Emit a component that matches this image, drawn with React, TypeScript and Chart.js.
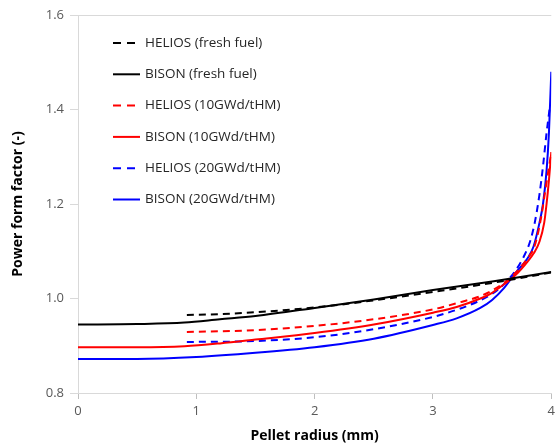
import React, { useEffect, useRef } from "react";
import { Chart, registerables } from "chart.js";

Chart.register(...registerables);

const yTicks = [0.8, 1.0, 1.2, 1.4, 1.6];
const xTicks = [0, 1, 2, 3, 4];

const bisonFreshR = [0, 0.5, 0.9, 1.2, 1.5, 2.0, 2.5, 3.0, 3.5, 4.0];
const bisonFreshV = [0.945, 0.946, 0.949, 0.956, 0.963, 0.98, 0.998, 1.018, 1.036, 1.056];

const heliosFreshR = [0.92, 1.2, 1.5, 2.0, 2.5, 3.0, 3.5, 4.0];
const heliosFreshV = [0.965, 0.967, 0.971, 0.981, 0.996, 1.014, 1.033, 1.055];

const bison10R = [0, 0.5, 0.9, 1.2, 1.5, 2.0, 2.5, 3.0, 3.2, 3.4, 3.5, 3.6, 3.7, 3.8, 3.85, 3.9, 3.94, 3.96, 3.98, 4.0];
const bison10V = [0.897, 0.897, 0.899, 0.905, 0.913, 0.927, 0.945, 0.97, 0.982, 1.0, 1.012, 1.03, 1.05, 1.078, 1.095, 1.12, 1.16, 1.2, 1.25, 1.31];

const helios10R = [0.92, 1.5, 2.0, 2.5, 3.0, 3.2, 3.4, 3.5, 3.6, 3.7, 3.8, 3.85, 3.88, 3.92, 3.95, 3.975, 3.995];
const helios10V = [0.929, 0.933, 0.942, 0.956, 0.977, 0.99, 1.005, 1.017, 1.033, 1.055, 1.085, 1.105, 1.13, 1.18, 1.23, 1.27, 1.3];

const bison20R = [0, 0.5, 1.0, 1.5, 2.0, 2.5, 3.0, 3.2, 3.4, 3.5, 3.6, 3.7, 3.8, 3.85, 3.9, 3.93, 3.96, 3.98, 4.0];
const bison20V = [0.872, 0.872, 0.876, 0.885, 0.897, 0.915, 0.944, 0.958, 0.98, 0.997, 1.022, 1.055, 1.085, 1.11, 1.16, 1.2, 1.27, 1.35, 1.48];

const helios20R = [0.92, 1.5, 2.0, 2.5, 3.0, 3.2, 3.4, 3.5, 3.6, 3.7, 3.77, 3.82, 3.86, 3.9, 3.93, 3.96, 3.985];
const helios20V = [0.908, 0.91, 0.918, 0.935, 0.961, 0.976, 0.996, 1.01, 1.03, 1.06, 1.09, 1.12, 1.16, 1.22, 1.28, 1.35, 1.4];

const seriesLabels = [
  "HELIOS (fresh fuel)",
  "BISON (fresh fuel)",
  "HELIOS (10GWd/tHM)",
  "BISON (10GWd/tHM)",
  "HELIOS (20GWd/tHM)",
  "BISON (20GWd/tHM)",
];

const toPts = (r: number[], v: number[]) => r.map((x, i) => ({ x, y: v[i] }));

const FONT = "'Open Sans', 'Liberation Sans', sans-serif";

const legendPlugin = {
  id: "insideLegend",
  afterDraw(chart: any) {
    const ctx = chart.ctx;
    const dsets = chart.data.datasets;
    ctx.save();
    ctx.font = `13.5px ${FONT}`;
    ctx.textBaseline = "middle";
    ctx.textAlign = "left";
    dsets.forEach((ds: any, i: number) => {
      const y = 43 + i * 31.3;
      const dashed = ds.borderDash && ds.borderDash.length > 0;
      ctx.strokeStyle = ds.borderColor;
      ctx.lineWidth = 2;
      ctx.setLineDash(dashed ? [8, 6] : []);
      ctx.beginPath();
      ctx.moveTo(113, y);
      ctx.lineTo(dashed ? 135 : 140, y);
      ctx.stroke();
      ctx.setLineDash([]);
      ctx.fillStyle = "#262626";
      ctx.fillText(ds.label, 145, y);
    });
    ctx.restore();
  },
};

export default function App() {
  const ref = useRef<HTMLCanvasElement | null>(null);
  useEffect(() => {
    document.body.style.margin = "0";
    const mk = (label: string, pts: any, color: string, dashed: boolean) => ({
      label,
      data: pts,
      borderColor: color,
      backgroundColor: color,
      borderWidth: 2,
      borderDash: dashed ? [7, 5] : [],
      pointRadius: 0,
      fill: false,
      cubicInterpolationMode: "monotone" as const,
    });
    const chart = new Chart(ref.current!, {
      type: "line",
      data: {
        datasets: [
          mk(seriesLabels[0], toPts(heliosFreshR, heliosFreshV), "#000000", true),
          mk(seriesLabels[1], toPts(bisonFreshR, bisonFreshV), "#000000", false),
          mk(seriesLabels[2], toPts(helios10R, helios10V), "#ff0000", true),
          mk(seriesLabels[3], toPts(bison10R, bison10V), "#ff0000", false),
          mk(seriesLabels[4], toPts(helios20R, helios20V), "#0000ff", true),
          mk(seriesLabels[5], toPts(bison20R, bison20V), "#0000ff", false),
        ],
      },
      options: {
        animation: false,
        responsive: false,
        layout: { padding: { top: 15, right: 5, left: 0, bottom: 0 } },
        plugins: { legend: { display: false }, tooltip: { enabled: false } },
        scales: {
          x: {
            type: "linear",
            min: 0,
            max: 4,
            afterFit: (s: any) => {
              s.height = 52;
            },
            afterBuildTicks: (s: any) => {
              s.ticks = xTicks.map((v) => ({ value: v }));
            },
            ticks: {
              color: "#595959",
              font: { family: FONT, size: 13 },
              padding: 4,
              callback: (v: any) => String(v),
            },
            grid: { drawOnChartArea: false, tickLength: 6, tickColor: "#bfbfbf" },
            border: { color: "#d9d9d9", width: 1 },
            title: {
              display: true,
              text: "Pellet radius (mm)",
              color: "#000000",
              font: { family: FONT, size: 14, weight: "bold" },
              padding: { top: 2, bottom: 1 },
            },
          },
          y: {
            type: "linear",
            min: 0.8,
            max: 1.6,
            afterFit: (s: any) => {
              s.width = 78;
            },
            afterBuildTicks: (s: any) => {
              s.ticks = yTicks.map((v) => ({ value: v }));
            },
            ticks: {
              color: "#595959",
              font: { family: FONT, size: 13 },
              padding: 6,
              callback: (v: any) => Number(v).toFixed(1),
            },
            grid: {
              drawOnChartArea: true,
              tickLength: 8,
              tickColor: "#d9d9d9",
              color: (c: any) => (c.tick && Math.abs(c.tick.value - 1.6) < 1e-6 ? "#d9d9d9" : "rgba(0,0,0,0)"),
            },
            border: { color: "#d9d9d9", width: 1 },
            title: {
              display: true,
              text: "Power form factor (-)",
              color: "#000000",
              font: { family: FONT, size: 14, weight: "bold" },
              padding: { top: 10, bottom: 4 },
            },
          },
        },
      },
      plugins: [legendPlugin],
    } as any);
    return () => chart.destroy();
  }, []);
  return (
    <div style={{ width: 559, height: 445 }}>
      <canvas ref={ref} width={559} height={445} style={{ width: 559, height: 445, display: "block" }} />
    </div>
  );
}
